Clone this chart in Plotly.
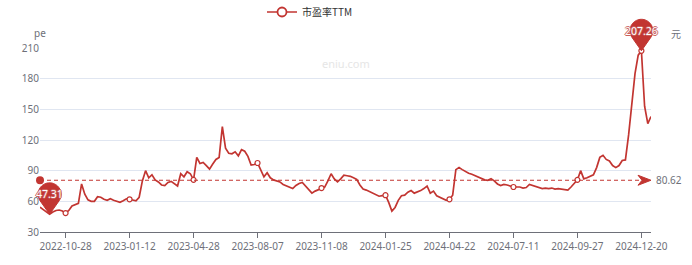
import math
import plotly.graph_objects as go

pe = [
    54.4, 52, 50, 47.31, 49.5, 51, 51.5, 50.5, 48.5, 51,
    55.5, 56.5, 58, 77, 67, 61.5, 60, 60, 64.5, 64,
    62, 61, 62.5, 61, 60, 59, 60.5, 62.5, 62, 61.5,
    60.5, 64, 80, 90, 83, 86, 81, 79, 76, 75.5,
    78.5, 79.5, 77.5, 75, 87, 84, 89, 87, 81, 103,
    97, 98, 95, 91.5, 96.5, 101, 103, 133, 112, 107,
    106.5, 108.5, 104.5, 110.5, 109, 104, 95.5, 96, 97.5, 91,
    84, 88, 83, 81, 80, 79, 76.5, 75, 74, 72.5,
    75.5, 77.5, 78.5, 75, 70.5, 68, 70, 71.5, 73, 74,
    80, 87, 82, 79, 82, 85.5, 85, 84.5, 83, 81.5,
    76, 72, 71, 69.5, 68, 66.5, 65, 65.5, 66, 59,
    50.5, 54, 61, 65.5, 66, 69, 70.5, 68, 69, 70.5,
    72.5, 75, 68, 70, 65.5, 64, 62, 61, 62, 66,
    91, 93, 91, 89, 87.5, 86.5, 85, 83.5, 82.5, 81,
    80.5, 82, 80, 77, 75.5, 76.5, 76, 75, 74, 74,
    74, 73, 73.5, 76.5, 75.5, 74.5, 73.5, 72.5, 73, 72.5,
    73, 72, 72.5, 72, 71.5, 71, 74, 78, 81, 90,
    82, 83, 84.5, 86, 93, 103, 105, 101, 99.5, 95,
    93, 95, 100, 100.5, 125, 158, 185, 203, 207.26, 153,
    136, 143,
]
tick_idx = [8, 28, 48, 68, 88, 108, 128, 148, 168, 188]
tick_labels = ["2022-10-28", "2023-01-12", "2023-04-28", "2023-08-07", "2023-11-08",
               "2024-01-25", "2024-04-22", "2024-07-11", "2024-09-27", "2024-12-20"]
y_ticks = [30, 60, 90, 120, 150, 180, 210]
avg_pe = 80.62
min_label = "47.31"
max_label = "207.26"
series_name = "市盈率TTM"

RED = "#c23531"
GRAY = "#6E7079"
GRID = "#E0E6F1"
FONT = "Noto Sans"
OUTLINE = "-1px 0 #c9605d, 1px 0 #c9605d, 0 -1px #c9605d, 0 1px #c9605d"

x = list(range(len(pe)))
x_min, x_max = 0, len(pe) - 1
y_min, y_max = y_ticks[0], y_ticks[-1]
min_i = pe.index(min(pe))
max_i = pe.index(max(pe))


def px(xv):
    return (xv - x_min) / (x_max - x_min)


def py(yv):
    return (yv - y_min) / (y_max - y_min)


fig = go.Figure()

# main line
fig.add_trace(go.Scatter(x=x, y=pe, mode="lines", line=dict(color=RED, width=1.7),
                         showlegend=False, hoverinfo="skip"))
# symbols at label interval points
fig.add_trace(go.Scatter(x=tick_idx, y=[pe[i] for i in tick_idx], mode="markers",
                         marker=dict(symbol="circle", size=5, color="white",
                                     line=dict(color=RED, width=1.2)),
                         showlegend=False, hoverinfo="skip", cliponaxis=False))
# average mark line
fig.add_trace(go.Scatter(x=[x[0], x[-1] - 2], y=[avg_pe, avg_pe], mode="lines",
                         line=dict(color=RED, width=1, dash="4px,3px"),
                         showlegend=False, hoverinfo="skip", cliponaxis=False))
fig.add_trace(go.Scatter(x=[x[0]], y=[avg_pe], mode="markers",
                         marker=dict(symbol="circle", size=8, color=RED),
                         showlegend=False, hoverinfo="skip", cliponaxis=False))
# legend entry
fig.add_trace(go.Scatter(x=[None], y=[None], mode="lines+markers", name=series_name,
                         line=dict(color=RED, width=1.7),
                         marker=dict(symbol="circle", size=9, color="white",
                                     line=dict(color=RED, width=1.8))))


def pin_path(r=11.5, h=20.0, n=40):
    # pixel-mode path offsets: positive y goes up
    phi = math.acos(r / h)
    start = 1.5 * math.pi - phi
    span = 2 * math.pi - 2 * phi
    pts = ["M 0,0"]
    for k in range(n + 1):
        t = start - span * k / n
        pts.append("L %.2f,%.2f" % (r * math.cos(t), h + r * math.sin(t)))
    pts.append("Z")
    return " ".join(pts)


shapes = []
for xi in (min_i, max_i):
    shapes.append(dict(type="path", xref="paper", yref="paper", xsizemode="pixel",
                       ysizemode="pixel", xanchor=px(xi), yanchor=py(pe[xi]), path=pin_path(),
                       fillcolor=RED, line=dict(color=RED, width=1), layer="above"))
# arrow at end of mark line
shapes.append(dict(type="path", xref="paper", yref="paper", xsizemode="pixel", ysizemode="pixel",
                   xanchor=px(x[-1]), yanchor=py(avg_pe),
                   path="M 0,0 L -13,-5 L -9,0 L -13,5 Z",
                   fillcolor=RED, line=dict(color=RED, width=1), layer="above"))

annotations = [
    dict(xref="paper", yref="paper", x=px(min_i), y=py(pe[min_i]), yshift=20, text=min_label,
         showarrow=False, xanchor="center", yanchor="middle",
         font=dict(family=FONT, size=10.5, color="white", shadow=OUTLINE)),
    dict(xref="paper", yref="paper", x=px(max_i), y=py(pe[max_i]), yshift=20, text=max_label,
         showarrow=False, xanchor="center", yanchor="middle",
         font=dict(family=FONT, size=10.5, color="white", shadow=OUTLINE)),
    dict(xref="paper", yref="paper", x=px(x[-1]), y=py(avg_pe), xanchor="left", yanchor="middle",
         xshift=3, text="80.62", showarrow=False, font=dict(family=FONT, size=10, color=GRAY)),
    dict(xref="paper", yref="paper", x=0, y=1, yshift=15, xanchor="center", yanchor="middle",
         text="pe", showarrow=False, font=dict(family=FONT, size=10, color=GRAY)),
    dict(xref="paper", yref="paper", x=1, y=1, xshift=25, yshift=15, xanchor="center",
         yanchor="middle", text="元", showarrow=False,
         font=dict(family="Noto Sans CJK SC", size=10, color=GRAY)),
    dict(xref="paper", yref="paper", x=0.5, y=1, yshift=-15, xanchor="center", yanchor="middle",
         text="eniu.com", showarrow=False, font=dict(family=FONT, size=11, color="#e6e6e6")),
]

fig.update_layout(
    width=692, height=265,
    margin=dict(l=40, r=41, t=48, b=18),
    paper_bgcolor="white", plot_bgcolor="white",
    shapes=shapes, annotations=annotations,
    showlegend=True,
    legend=dict(orientation="h", xref="container", yref="container",
                x=262 / 692, y=1 - 12 / 265, xanchor="left", yanchor="middle",
                font=dict(family="Noto Sans CJK SC", size=10, color="#333"),
                bgcolor="rgba(0,0,0,0)"),
    xaxis=dict(range=[x_min, x_max], showgrid=False, zeroline=False, showline=True,
               linecolor=GRAY, linewidth=1, ticks="outside", ticklen=5, tickcolor=GRAY,
               tickvals=tick_idx, ticktext=tick_labels,
               tickfont=dict(family=FONT, size=10, color=GRAY)),
    yaxis=dict(range=[y_min, y_max], tickvals=y_ticks, showgrid=True, gridcolor=GRID, gridwidth=1,
               zeroline=False, showline=False, ticks="",
               tickfont=dict(family=FONT, size=10, color=GRAY)),
)

fig.write_html("out.html")
